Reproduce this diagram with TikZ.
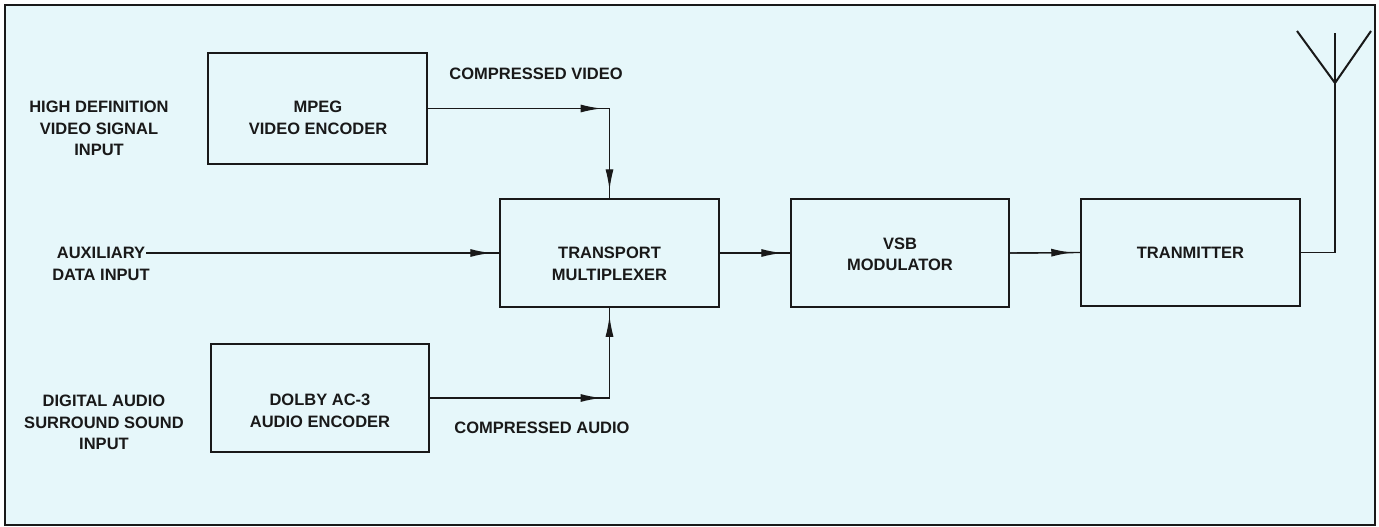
\documentclass[tikz,border=0pt]{standalone}
\usepackage{fontspec}
\setmainfont{Liberation Sans}
\usetikzlibrary{arrows.meta}
\definecolor{bgcyan}{RGB}{230,247,250}
\definecolor{ink}{RGB}{25,25,25}
\begin{document}
\begin{tikzpicture}[x=1pt,y=-1pt,
  blk/.style={draw=ink, line width=1.5pt, inner sep=0pt},
  lbl/.style={font=\bfseries\fontsize{16.5}{21.5}\selectfont, align=center, inner sep=0pt, text=ink},
  wire/.style={draw=ink, line width=1.4pt},
  tip/.style={wire, -{Latex[length=21pt,width=8pt]}, shorten >=8pt}]
\useasboundingbox (0,0) rectangle (1379,527);
\fill[white] (0,0) rectangle (1379,527);
\draw[draw=ink, line width=2.5pt, fill=bgcyan] (5,5) rectangle (1375,525);

% blocks
\node[blk, minimum width=219pt, minimum height=111pt] (mpeg) at (317.5,108.5) {};
\node[blk, minimum width=219pt, minimum height=108pt] (mux) at (609.5,253) {};
\node[blk, minimum width=218pt, minimum height=108pt] (vsb) at (900,253) {};
\node[blk, minimum width=219pt, minimum height=107pt] (tx) at (1190.5,252.5) {};
\node[blk, minimum width=218pt, minimum height=108pt] (dolby) at (320,398) {};

% block texts
\node[lbl] (mpegtxt) at (318,118) {MPEG\\VIDEO ENCODER};
\node[lbl] (muxtxt) at (609.5,264) {TRANSPORT\\MULTIPLEXER};
\node[lbl] (vsbtxt) at (900,254.5) {VSB\\MODULATOR};
\node[lbl] (txtxt) at (1190.5,253) {TRANMITTER};
\node[lbl] (dolbytxt) at (320,411) {DOLBY AC-3\\AUDIO ENCODER};

% input labels
\node[lbl] (hdin) at (99,128.5) {HIGH DEFINITION\\VIDEO SIGNAL\\INPUT};
\node[lbl] (auxin) at (101,264) {AUXILIARY\\DATA INPUT};
\node[lbl] (audin) at (104,422.5) {DIGITAL AUDIO\\SURROUND SOUND\\INPUT};
\node[lbl] (cvid) at (536,74) {COMPRESSED VIDEO};
\node[lbl] (caud) at (542,428) {COMPRESSED AUDIO};

% connectors
\coordinate (cv) at (mux.north |- mpeg.east);
\draw[wire] (mpeg.east) -- (cv) -- (mux.north);
\draw[tip] (mpeg.east) -- (cv);
\draw[tip] (cv) -- (mux.north);

\coordinate (ca) at (mux.south |- dolby.east);
\draw[wire] (dolby.east) -- (ca) -- (mux.south);
\draw[tip] (dolby.east) -- (ca);
\draw[tip] (ca) -- (mux.south);

\coordinate (auxend) at (146,253);
\draw[wire] (auxend) -- (mux.west);
\draw[tip] (auxend) -- (mux.west);

\draw[wire] (mux.east) -- (vsb.west);
\draw[tip] (mux.east) -- (vsb.west);
\draw[wire] (vsb.east) -- (tx.west);
\draw[tip] (vsb.east) -- (tx.west);

% antenna
\coordinate (ant) at (1335,83);
\coordinate (mast) at (1335,33);
\coordinate (armL) at (1297,31);
\coordinate (armR) at (1371,31);
\coordinate (tc) at (ant |- tx.east);
\draw[wire] (tx.east) -- (tc) -- (mast);
\draw[draw=ink, line width=2pt, line join=miter] (armL) -- (ant) -- (armR);
\end{tikzpicture}
\end{document}
